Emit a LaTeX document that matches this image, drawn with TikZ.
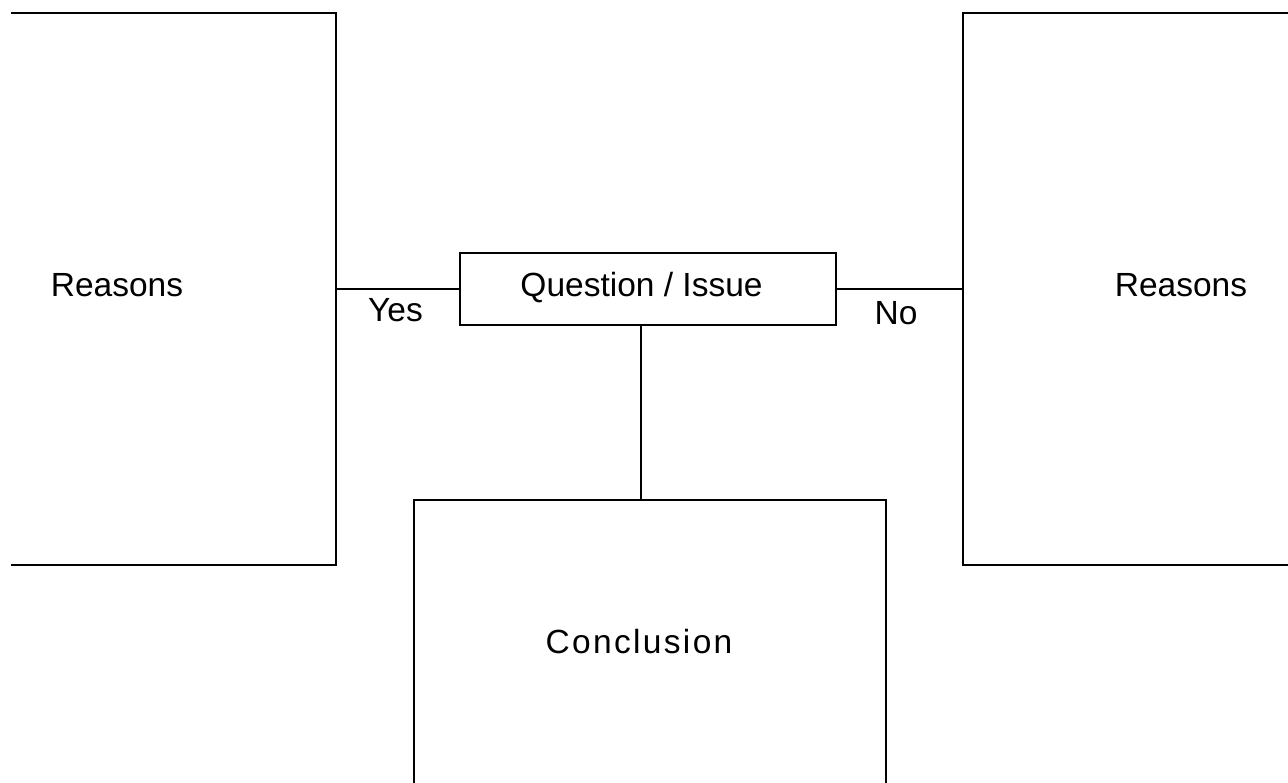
\documentclass[tikz,border=0pt]{standalone}
\usepackage{fontspec}
\setmainfont{Liberation Sans}
\begin{document}
\begin{tikzpicture}[x=1pt,y=-1pt,
  box/.style={draw=black, line width=2pt, rectangle, inner sep=0pt},
  lbl/.style={font=\fontsize{33.5}{40}\selectfont, inner sep=0pt, anchor=base},
  conn/.style={draw=black, line width=2pt}]
\useasboundingbox (0,0) rectangle (1288,783);
\clip (11,0) rectangle (1288,783);
% boxes
\node[box, minimum width=376pt, minimum height=552pt] (L) at (148,289) {};
\node[box, minimum width=347pt, minimum height=552pt] (R) at (1136.5,289) {};
\node[box, minimum width=376pt, minimum height=72pt] (Q) at (648,289) {};
\node[box, minimum width=472pt, minimum height=310pt] (C) at (650,655) {};
% labels
\node[lbl] (tl) at (117,297) {Reasons};
\node[lbl] (tr) at (1181,297) {Reasons};
\node[lbl] (tq) at (641.5,297) {Question / Issue};
\node[lbl] (tc) at (639,653) {\addfontfeatures{LetterSpace=7}Conclusion};
\node[lbl] (ty) at (395.5,322) {Yes};
\node[lbl] (tn) at (896,325) {No};
% connectors
\draw[conn] (L.east) -- (Q.west);
\draw[conn] (Q.east) -- (R.west);
\draw[conn] ([xshift=-7pt]Q.south) -- ([xshift=-9pt]C.north);
\end{tikzpicture}
\end{document}
